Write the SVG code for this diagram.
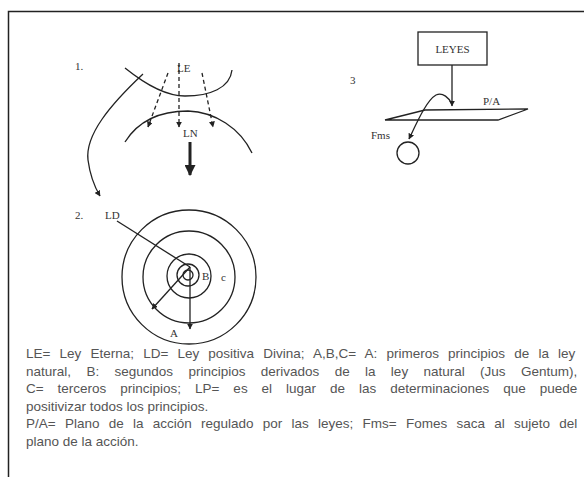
<svg xmlns="http://www.w3.org/2000/svg" width="584" height="477" viewBox="0 0 584 477">
<defs>
<style>
.ln{fill:none;stroke:#222;stroke-width:1.3}
.dash{fill:none;stroke:#222;stroke-width:1.3;stroke-dasharray:4 3}
.lbl{font-family:"Liberation Serif",serif;font-size:11px;fill:#333}
.body{font-family:"Liberation Sans",Arial,sans-serif;font-size:13.5px;fill:#555}
</style>
<marker id="ah" viewBox="0 0 10 10" refX="9" refY="5" markerWidth="6" markerHeight="6" orient="auto" markerUnits="userSpaceOnUse">
<path d="M0,0 L10,5 L0,10 z" fill="#222"/>
</marker>
<marker id="ahb" viewBox="0 0 10 10" refX="9" refY="5" markerWidth="11" markerHeight="11" orient="auto" markerUnits="userSpaceOnUse">
<path d="M0,0 L10,5 L0,10 z" fill="#222"/>
</marker>
</defs>
<rect width="584" height="477" fill="#fff"/>
<path d="M8.5,477 V11.5 H584" fill="none" stroke="#222" stroke-width="1.5"/>

<g id="fig1">
<text class="lbl" x="75" y="70">1.</text>
<text class="lbl" x="177" y="72">LE</text>
<path class="ln" d="M125,68 C150,88 168,96 185,96 C210,96 230,88 232,70"/>
<path class="ln" d="M125,142 C140,118 165,111 188,111 C215,112 240,128 252,153"/>
<text class="lbl" x="183" y="137">LN</text>
</g>

<g id="fig2">
<text class="lbl" x="75" y="219">2.</text>
<text class="lbl" x="105" y="219">LD</text>
<circle class="ln" cx="189" cy="277" r="67"/>
<circle class="ln" cx="189" cy="277" r="46"/>
<circle class="ln" cx="189" cy="276" r="22"/>
<circle class="ln" cx="188" cy="275" r="11"/>
<circle class="ln" cx="188" cy="275" r="5"/>
<text class="lbl" x="202" y="280" font-size="8">B</text>
<text class="lbl" x="221" y="281">c</text>
<text class="lbl" x="170" y="337">A</text>
</g>

<g id="fig3">
<text class="lbl" x="350" y="84">3</text>
<g id="leyes">
<rect x="418" y="32" width="69" height="33" fill="#fff" stroke="#222" stroke-width="1.3"/>
<text class="lbl" x="452.5" y="53" text-anchor="middle">LEYES</text>
</g>
<polygon class="ln" points="385,120 425,110 528,109 498,120"/>
<text class="lbl" x="483" y="105">P/A</text>
<text class="lbl" x="371" y="139" font-size="10">Fms</text>
<circle class="ln" cx="408" cy="153" r="11"/>
</g>

<g id="connectors">
<path class="dash" d="M168,73 L148,127" marker-end="url(#ah)"/>
<path class="dash" d="M179,63 L179,127" marker-end="url(#ah)"/>
<path class="dash" d="M202,73 L213,127" marker-end="url(#ah)"/>
<path d="M190,142 L190,175" fill="none" stroke="#222" stroke-width="3" marker-end="url(#ahb)"/>
<path class="ln" d="M143,74 C110,105 85,135 88,160 C90,175 94,186 100,196" marker-end="url(#ah)"/>
<path class="ln" d="M117,221 L190,267"/>
<path class="ln" d="M190,267 L152,309" marker-end="url(#ah)"/>
<path class="ln" d="M190,267 L190,329" marker-end="url(#ah)"/>
<path class="ln" d="M452,65 L452,106" marker-end="url(#ah)"/>
<path class="ln" d="M452,104 C449,98 443,92 436,95 C427,100 418,120 409,139" marker-end="url(#ah)"/>
</g>

<g id="caption">
<text class="body" x="26" y="358" word-spacing="5.4">LE= Ley Eterna; LD= Ley positiva Divina; A,B,C= A: primeros principios de la ley</text>
<text class="body" x="26" y="376" word-spacing="11.6">natural, B: segundos principios derivados de la ley natural (Jus Gentum),</text>
<text class="body" x="26" y="393" word-spacing="10.2">C= terceros principios; LP= es el lugar de las determinaciones que puede</text>
<text class="body" x="26" y="411">positivizar todos los principios.</text>
<text class="body" x="26" y="428" word-spacing="5.5">P/A= Plano de la acción regulado por las leyes; Fms= Fomes saca al sujeto del</text>
<text class="body" x="26" y="446">plano de la acción.</text>
</g>
</svg>
